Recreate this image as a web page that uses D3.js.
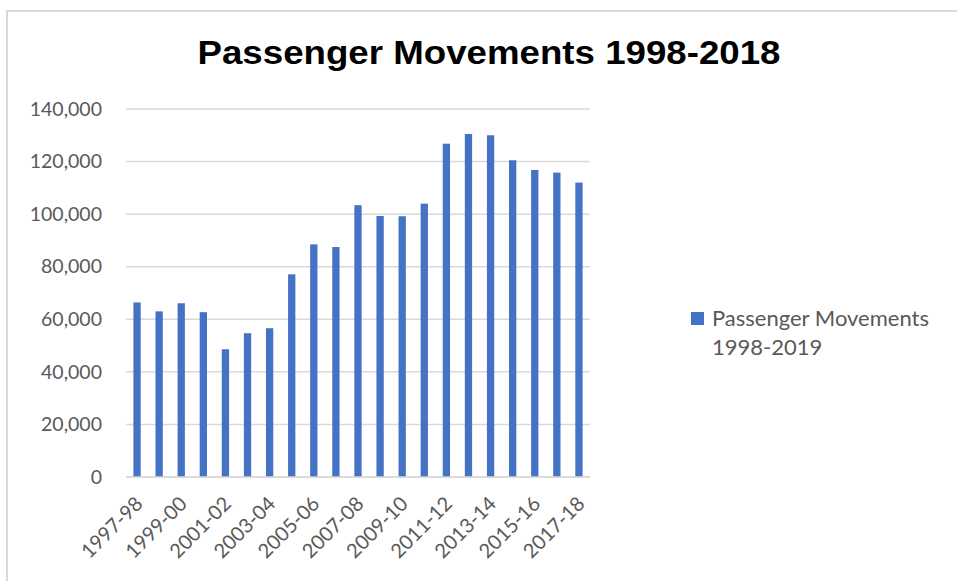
<!DOCTYPE html>
<html>
<head>
<meta charset="utf-8">
<script src="https://cdn.jsdelivr.net/npm/d3@7"></script>
<style>
  body { margin: 0; background: #fff; }
  svg { display: block; }
</style>
</head>
<body>
<svg id="chart" width="957" height="581"></svg>
<script>
const categories = ["1997-98","1998-99","1999-00","2000-01","2001-02","2002-03","2003-04","2004-05","2005-06","2006-07","2007-08","2008-09","2009-10","2010-11","2011-12","2012-13","2013-14","2014-15","2015-16","2016-17","2017-18"];
const values = [66400, 63000, 66100, 62700, 48600, 54700, 56600, 77100, 88500, 87500, 103400, 99300, 99200, 104000, 126800, 130500, 130000, 120500, 116800, 115800, 112000];
const yTicks = [0, 20000, 40000, 60000, 80000, 100000, 120000, 140000];
const title = "Passenger Movements 1998-2018";
const seriesName = ["Passenger Movements", "1998-2019"];

const svg = d3.select("#chart");
const font = "Lato, 'Open Sans', sans-serif";
const plotLeft = 126, plotRight = 590, plotTop = 109, plotBottom = 477;

// outer frame (top and left edges visible)
svg.append("path")
  .attr("d", "M7,581 L7,11 L957,11")
  .attr("fill", "none").attr("stroke", "#d9d9d9").attr("stroke-width", 2);

const x = d3.scaleBand().domain(categories).range([plotLeft, plotRight]).paddingInner(0.67).paddingOuter(0.335);
const y = d3.scaleLinear().domain([0, 140000]).range([plotBottom, plotTop]);

// gridlines
svg.append("g").selectAll("line").data(yTicks).join("line")
  .attr("x1", plotLeft).attr("x2", plotRight)
  .attr("y1", d => y(d)).attr("y2", d => y(d))
  .attr("stroke", "#d9d9d9").attr("stroke-width", 1.5);

// y axis labels
const yAxis = d3.axisLeft(y).tickValues(yTicks).tickSize(0).tickPadding(0).tickFormat(d3.format(","));
const gy = svg.append("g").attr("transform", `translate(${102},0)`).call(yAxis);
gy.select(".domain").remove();
gy.selectAll("text").attr("font-family", font).attr("font-size", 19.5).attr("fill", "#595959");

// bars
svg.append("g").selectAll("rect").data(values).join("rect")
  .attr("x", (d, i) => x(categories[i]))
  .attr("width", x.bandwidth())
  .attr("y", d => y(d))
  .attr("height", d => y(0) - y(d))
  .attr("fill", "#4472c4");

// x axis
const xAxis = d3.axisBottom(x).tickSize(0).tickPadding(0)
  .tickFormat((d, i) => i % 2 === 0 ? d : "");
const gx = svg.append("g").attr("transform", `translate(0,${plotBottom})`).call(xAxis);
gx.select(".domain").attr("stroke", "#d9d9d9").attr("stroke-width", 1.5).attr("d", `M${plotLeft},0H${plotRight}`);
gx.selectAll("text")
  .attr("font-family", font).attr("font-size", 20).attr("fill", "#595959")
  .attr("text-anchor", "end")
  .attr("dy", null)
  .attr("transform", "translate(7,28) rotate(-45)");

// title
svg.append("text").attr("x", 489).attr("y", 64).attr("text-anchor", "middle")
  .attr("font-family", "'Liberation Sans', Arial, sans-serif").attr("font-weight", "bold")
  .attr("font-size", 34).attr("textLength", 583).attr("lengthAdjust", "spacingAndGlyphs")
  .attr("fill", "#000").text(title);

// legend
const lg = svg.append("g");
lg.append("rect").attr("x", 691).attr("y", 312).attr("width", 13).attr("height", 13).attr("fill", "#4472c4");
lg.selectAll("text").data(seriesName).join("text")
  .attr("x", 712).attr("y", (d, i) => 326 + i * 29)
  .attr("font-family", font).attr("font-size", 22).attr("fill", "#595959")
  .text(d => d);
</script>
</body>
</html>
